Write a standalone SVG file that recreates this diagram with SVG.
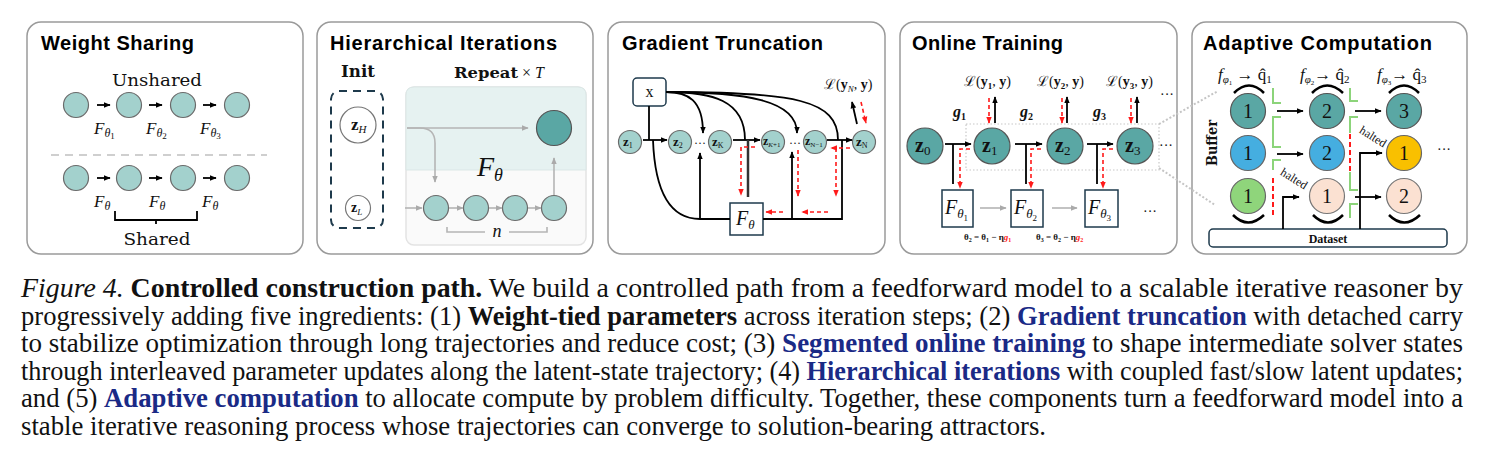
<svg xmlns="http://www.w3.org/2000/svg" width="1493" height="475" viewBox="0 0 1493 475">
<defs>
<marker id="ab" viewBox="0 0 10 10" refX="9" refY="5" markerWidth="7" markerHeight="7" markerUnits="userSpaceOnUse" orient="auto"><path d="M0,1 L10,5 L0,9 z" fill="#000"/></marker>
<marker id="ag" viewBox="0 0 10 10" refX="9" refY="5" markerWidth="7" markerHeight="7" markerUnits="userSpaceOnUse" orient="auto"><path d="M0,1 L10,5 L0,9 z" fill="#aaa"/></marker>
<marker id="ar" viewBox="0 0 10 10" refX="9" refY="5" markerWidth="7" markerHeight="7" markerUnits="userSpaceOnUse" orient="auto"><path d="M0,1 L10,5 L0,9 z" fill="#ff1a1a"/></marker>
</defs>
<style>
.panel{fill:#fff;stroke:#9a9a9a;stroke-width:1.5}
.title{font-family:"Liberation Sans",Arial,sans-serif;font-weight:bold;font-size:20px;fill:#000}
.lt{fill:#a3d1cd;stroke:#6a6a6a;stroke-width:1.2}
.dk{fill:#5aa7a4;stroke:#555;stroke-width:1.2}
.wc{fill:#fff;stroke:#777;stroke-width:1.2}
.bx{fill:#fff;stroke:#1e3a4c;stroke-width:1.5}
.srf{font-family:"DejaVu Serif","Liberation Serif",serif;fill:#111}
.mth{font-family:"Liberation Serif","Times New Roman",serif;fill:#111}
.it{font-style:italic}
.zb{font-family:"Liberation Serif",serif;font-weight:bold;fill:#111}
.blk{stroke:#000;stroke-width:1.8;fill:none}
.gry{stroke:#b5b5b5;stroke-width:1.6;fill:none}
.red{stroke:#ff1a1a;stroke-width:1.6;fill:none;stroke-dasharray:4 3}
.grn{stroke:#8cd47a;stroke-width:2;fill:none}
.cap{font-family:"Liberation Serif","Times New Roman",serif;font-size:27px;fill:#111}
.bl{font-weight:bold;fill:#1a2a86}
</style>

<!-- Panel 1 -->
<g id="panel-weight-sharing">
<rect class="panel" x="27" y="22" width="276" height="232" rx="14"/>
<text class="title" x="41" y="50" textLength="153">Weight Sharing</text>
<text class="srf" x="157" y="86" text-anchor="middle" font-size="16" textLength="90" lengthAdjust="spacingAndGlyphs">Unshared</text>
<circle class="lt" cx="76" cy="105" r="12.5"/><circle class="lt" cx="129" cy="105" r="12.5"/><circle class="lt" cx="183" cy="105" r="12.5"/><circle class="lt" cx="237" cy="105" r="12.5"/>
<text class="mth it" x="94" y="134" font-size="17">F<tspan font-size="12" dy="3">θ</tspan><tspan font-size="9" dy="2" font-style="normal">1</tspan></text>
<text class="mth it" x="146" y="134" font-size="17">F<tspan font-size="12" dy="3">θ</tspan><tspan font-size="9" dy="2" font-style="normal">2</tspan></text>
<text class="mth it" x="200" y="134" font-size="17">F<tspan font-size="12" dy="3">θ</tspan><tspan font-size="9" dy="2" font-style="normal">3</tspan></text>
<line x1="51" y1="155" x2="267" y2="155" stroke="#cfcfcf" stroke-width="2" stroke-dasharray="8 6"/>
<circle class="lt" cx="76" cy="178" r="12.5"/><circle class="lt" cx="129" cy="178" r="12.5"/><circle class="lt" cx="183" cy="178" r="12.5"/><circle class="lt" cx="237" cy="178" r="12.5"/>
<text class="mth it" x="94" y="207" font-size="17">F<tspan font-size="12" dy="3">θ</tspan></text>
<text class="mth it" x="149" y="207" font-size="17">F<tspan font-size="12" dy="3">θ</tspan></text>
<text class="mth it" x="202" y="207" font-size="17">F<tspan font-size="12" dy="3">θ</tspan></text>
<path d="M115,211 V220 H197 V211 M156,220 V224" class="blk" stroke-width="1.6"/>
<text class="srf" x="157" y="245" text-anchor="middle" font-size="16" textLength="67" lengthAdjust="spacingAndGlyphs">Shared</text>
</g>

<!-- Panel 2 -->
<g id="panel-hierarchical">
<rect class="panel" x="317" y="22" width="276" height="232" rx="14"/>
<text class="title" x="330" y="50" textLength="227">Hierarchical Iterations</text>
<text class="srf" x="358" y="77" text-anchor="middle" font-size="16" font-weight="bold" textLength="34" lengthAdjust="spacingAndGlyphs">Init</text>
<text class="srf" x="454" y="78" font-size="14" font-weight="bold" textLength="64" lengthAdjust="spacingAndGlyphs">Repeat</text>
<text class="mth" x="522" y="78" font-size="16">× <tspan class="it">T</tspan></text>
<rect x="331" y="91" width="52" height="137" rx="8" fill="none" stroke="#1e3a4c" stroke-width="2" stroke-dasharray="8 6"/>
<g id="zH"><circle class="wc" cx="358" cy="125" r="18"/><text class="zb" x="351" y="130" font-size="17">z<tspan class="it" font-weight="normal" font-size="11" dy="3">H</tspan></text></g>
<g id="zL"><circle class="wc" cx="358" cy="208" r="12.5"/><text class="zb" x="351" y="212" font-size="14">z<tspan class="it" font-weight="normal" font-size="9" dy="3">L</tspan></text></g>
<rect x="406" y="87" width="180" height="158" rx="8" fill="#fafafa" stroke="#e3e3e3" stroke-width="1.5"/>
<path d="M406,170 V95 Q406,87 414,87 H578 Q586,87 586,95 V170 Z" fill="#e6f2f1" stroke="#dbe7e6" stroke-width="1"/>
<circle class="dk" cx="554" cy="128" r="17.5"/>
<text class="mth it" x="477" y="176" font-size="28">F<tspan font-size="18" dy="5">θ</tspan></text>
<circle class="lt" cx="436" cy="208" r="12.5"/><circle class="lt" cx="476" cy="208" r="12.5"/><circle class="lt" cx="515" cy="208" r="12.5"/><circle class="lt" cx="554" cy="208" r="12.5"/>
<path d="M447,227 V232 H485 M509,232 H547 V227" class="gry" stroke="#c3c3c3"/>
<text class="mth it" x="497" y="237" text-anchor="middle" font-size="18" fill="#999">n</text>
</g>

<!-- Panel 3 -->
<g id="panel-gradient">
<rect class="panel" x="608" y="22" width="277" height="232" rx="14"/>
<text class="title" x="622" y="50" textLength="201">Gradient Truncation</text>
<g id="xbox"><rect class="bx" x="633" y="78" width="33" height="28" rx="4"/><text class="mth" x="649.5" y="97" text-anchor="middle" font-size="16">x</text></g>
<text class="mth" x="824" y="89" font-size="14">ℒ(<tspan font-weight="bold">y</tspan><tspan class="it" font-size="9" dy="3">N</tspan><tspan dy="-3">, </tspan><tspan font-weight="bold">y</tspan>)</text>
<g id="gz1"><circle class="lt" cx="630" cy="142" r="11.5"/><text class="zb" x="623" y="146" font-size="13">z<tspan font-size="8" font-weight="normal" dy="2">1</tspan></text></g>
<g id="gz2"><circle class="lt" cx="680" cy="142" r="11.5"/><text class="zb" x="673" y="146" font-size="13">z<tspan font-size="8" font-weight="normal" dy="2">2</tspan></text></g>
<g id="gzK"><circle class="lt" cx="720" cy="142" r="11.5"/><text class="zb" x="712" y="146" font-size="13">z<tspan font-size="8" font-weight="normal" dy="2">K</tspan></text></g>
<g id="gzK1"><circle class="lt" cx="773" cy="142" r="11.5"/><text class="zb" x="763" y="145" font-size="12">z<tspan font-size="7" font-weight="normal" dy="2"><tspan class="it">K</tspan>+1</tspan></text></g>
<g id="gzN1"><circle class="lt" cx="815" cy="142" r="11.5"/><text class="zb" x="805" y="145" font-size="12">z<tspan font-size="7" font-weight="normal" dy="2">N−1</tspan></text></g>
<g id="gzN"><circle class="lt" cx="864" cy="142" r="11.5"/><text class="zb" x="856" y="146" font-size="13">z<tspan font-size="8" font-weight="normal" dy="2">N</tspan></text></g>
<text class="mth" x="700" y="147" text-anchor="middle" font-size="12">···</text>
<text class="mth" x="795" y="147" text-anchor="middle" font-size="12">···</text>
<g id="fbox"><rect class="bx" x="730" y="203" width="33" height="32"/><text class="mth it" x="736" y="225" font-size="20">F<tspan font-size="13" dy="4">θ</tspan></text></g>
</g>

<!-- Panel 4 -->
<g id="panel-online">
<rect class="panel" x="900" y="22" width="277" height="232" rx="14"/>
<text class="title" x="912" y="50" textLength="151">Online Training</text>
<text class="mth" x="964" y="86" font-size="14">ℒ(<tspan font-weight="bold">y<tspan font-size="9" dy="3">1</tspan></tspan><tspan dy="-3">, </tspan><tspan font-weight="bold">y</tspan>)</text>
<text class="mth" x="1037" y="86" font-size="14">ℒ(<tspan font-weight="bold">y<tspan font-size="9" dy="3">2</tspan></tspan><tspan dy="-3">, </tspan><tspan font-weight="bold">y</tspan>)</text>
<text class="mth" x="1106" y="86" font-size="14">ℒ(<tspan font-weight="bold">y<tspan font-size="9" dy="3">3</tspan></tspan><tspan dy="-3">, </tspan><tspan font-weight="bold">y</tspan>)</text>
<text class="mth" x="1167" y="99" text-anchor="middle" font-size="14">···</text>
<text class="mth it" x="953" y="117" font-size="16" font-weight="bold" fill="#ff1a1a">g<tspan font-size="10" font-style="normal" dy="3">1</tspan></text>
<text class="mth it" x="1020" y="117" font-size="16" font-weight="bold" fill="#ff1a1a">g<tspan font-size="10" font-style="normal" dy="3">2</tspan></text>
<text class="mth it" x="1093" y="117" font-size="16" font-weight="bold" fill="#ff1a1a">g<tspan font-size="10" font-style="normal" dy="3">3</tspan></text>
<rect x="966" y="124" width="193" height="46" fill="none" stroke="#c8c8c8" stroke-width="1.2" stroke-dasharray="1.5 2"/>
<g id="oz0"><circle class="dk" cx="925" cy="146" r="18"/><text class="zb" x="915" y="152" font-size="20">z<tspan font-size="13" font-weight="normal" dy="3">0</tspan></text></g>
<g id="oz1"><circle class="dk" cx="992" cy="146" r="18"/><text class="zb" x="982" y="152" font-size="20">z<tspan font-size="13" font-weight="normal" dy="3">1</tspan></text></g>
<g id="oz2"><circle class="dk" cx="1065" cy="146" r="18"/><text class="zb" x="1055" y="152" font-size="20">z<tspan font-size="13" font-weight="normal" dy="3">2</tspan></text></g>
<g id="oz3"><circle class="dk" cx="1135" cy="146" r="18"/><text class="zb" x="1125" y="152" font-size="20">z<tspan font-size="13" font-weight="normal" dy="3">3</tspan></text></g>
<text class="mth" x="1166" y="150" text-anchor="middle" font-size="14">···</text>
<g id="of1"><rect class="bx" x="942" y="190" width="31" height="37"/><text class="mth it" x="945" y="214" font-size="20">F<tspan font-size="13" dy="4">θ</tspan><tspan font-size="9" font-style="normal" dy="3">1</tspan></text></g>
<g id="of2"><rect class="bx" x="1011" y="190" width="32" height="37"/><text class="mth it" x="1014" y="214" font-size="20">F<tspan font-size="13" dy="4">θ</tspan><tspan font-size="9" font-style="normal" dy="3">2</tspan></text></g>
<g id="of3"><rect class="bx" x="1085" y="190" width="33" height="37"/><text class="mth it" x="1088" y="214" font-size="20">F<tspan font-size="13" dy="4">θ</tspan><tspan font-size="9" font-style="normal" dy="3">3</tspan></text></g>
<text class="mth" x="1150" y="216" text-anchor="middle" font-size="14">···</text>
<text class="mth" x="964" y="240" font-size="9" font-weight="bold">θ<tspan font-size="6" dy="2">2</tspan><tspan dy="-2"> = θ</tspan><tspan font-size="6" dy="2">1</tspan><tspan dy="-2"> − η</tspan><tspan fill="#ff1a1a" font-style="italic">g</tspan><tspan fill="#ff1a1a" font-size="6" dy="2">1</tspan></text>
<text class="mth" x="1036" y="240" font-size="9" font-weight="bold">θ<tspan font-size="6" dy="2">3</tspan><tspan dy="-2"> = θ</tspan><tspan font-size="6" dy="2">2</tspan><tspan dy="-2"> − η</tspan><tspan fill="#ff1a1a" font-style="italic">g</tspan><tspan fill="#ff1a1a" font-size="6" dy="2">2</tspan></text>
</g>

<!-- Panel 5 -->
<g id="panel-adaptive">
<rect class="panel" x="1192" y="22" width="275" height="232" rx="14"/>
<text class="title" x="1203" y="50" textLength="229">Adaptive Computation</text>
<text class="mth" x="1218" y="80" font-size="17"><tspan class="it">f</tspan><tspan class="it" font-size="11" dy="3">φ</tspan><tspan font-size="7" dy="2">1</tspan><tspan dy="-5" font-weight="bold"> → </tspan>q̂<tspan font-size="11" dy="3">1</tspan></text>
<text class="mth" x="1300" y="80" font-size="17"><tspan class="it">f</tspan><tspan class="it" font-size="11" dy="3">φ</tspan><tspan font-size="7" dy="2">2</tspan><tspan dy="-5" font-weight="bold">→ </tspan>q̂<tspan font-size="11" dy="3">2</tspan></text>
<text class="mth" x="1377" y="80" font-size="17"><tspan class="it">f</tspan><tspan class="it" font-size="11" dy="3">φ</tspan><tspan font-size="7" dy="2">3</tspan><tspan dy="-5" font-weight="bold">→ </tspan>q̂<tspan font-size="11" dy="3">3</tspan></text>
<path d="M1234,93 Q1249,78 1264,93 M1312,93 Q1327,78 1343,93 M1389,93 Q1404,78 1419,93" stroke="#000" stroke-width="2.5" fill="none"/>
<path d="M1233,215 Q1248,230 1264,215 M1313,215 Q1328,230 1343,215 M1389,215 Q1404,230 1420,215" stroke="#000" stroke-width="2.5" fill="none"/>
<text class="srf" transform="translate(1217,143) rotate(-90)" text-anchor="middle" font-size="15" font-weight="bold" textLength="46" lengthAdjust="spacingAndGlyphs">Buffer</text>
<g id="c11"><circle class="dk" cx="1248" cy="111" r="17.5"/><text class="mth" x="1248" y="118" text-anchor="middle" font-size="20">1</text></g>
<g id="c12"><circle class="dk" cx="1327" cy="111" r="17.5"/><text class="mth" x="1327" y="118" text-anchor="middle" font-size="20">2</text></g>
<g id="c13"><circle class="dk" cx="1404" cy="111" r="17.5"/><text class="mth" x="1404" y="118" text-anchor="middle" font-size="20">3</text></g>
<g id="c21"><circle cx="1248" cy="153" r="17.5" fill="#45aee0" stroke="#666" stroke-width="1.2"/><text class="mth" x="1248" y="160" text-anchor="middle" font-size="20">1</text></g>
<g id="c22"><circle cx="1327" cy="153" r="17.5" fill="#45aee0" stroke="#666" stroke-width="1.2"/><text class="mth" x="1327" y="160" text-anchor="middle" font-size="20">2</text></g>
<g id="c23"><circle cx="1404" cy="153" r="17.5" fill="#f9c000" stroke="#666" stroke-width="1.2"/><text class="mth" x="1404" y="160" text-anchor="middle" font-size="20">1</text></g>
<g id="c31"><circle cx="1248" cy="196" r="17.5" fill="#8fd57b" stroke="#666" stroke-width="1.2"/><text class="mth" x="1248" y="203" text-anchor="middle" font-size="20">1</text></g>
<g id="c32"><circle cx="1327" cy="196" r="17.5" fill="#fbe1d2" stroke="#777" stroke-width="1.2"/><text class="mth" x="1327" y="203" text-anchor="middle" font-size="20">1</text></g>
<g id="c33"><circle cx="1404" cy="196" r="17.5" fill="#fbe1d2" stroke="#777" stroke-width="1.2"/><text class="mth" x="1404" y="203" text-anchor="middle" font-size="20">2</text></g>
<text class="mth" x="1444" y="154" text-anchor="middle" font-size="14">···</text>
<path class="grn" d="M1273,88 V103 H1281 M1281,117 H1273 V147 H1281 M1281,160 H1273 V170"/>
<path class="grn" d="M1350,88 V101 H1358 M1358,117 H1350 V133 M1350,172 V190 H1358 M1358,204 H1350 V218"/>
<path d="M1273,178 V218 M1350,134 V172" stroke="#ff1a1a" stroke-width="2" stroke-dasharray="5 3"/>
<text class="mth" transform="translate(1292,182) rotate(32)" text-anchor="middle" font-size="12" fill="#ff1a1a">halted</text>
<text class="mth" transform="translate(1371,140) rotate(32)" text-anchor="middle" font-size="12" fill="#ff1a1a">halted</text>
<g id="dataset"><rect class="bx" x="1209" y="229" width="238" height="18" rx="4"/><text class="mth" x="1328" y="243" text-anchor="middle" font-size="12" font-weight="bold">Dataset</text></g>
</g>

<!-- Connectors -->
<g id="connectors">
<!-- panel 1 -->
<path class="blk" marker-end="url(#ab)" d="M97,105 H110"/><path class="blk" marker-end="url(#ab)" d="M149,105 H162"/><path class="blk" marker-end="url(#ab)" d="M203,105 H216"/>
<path class="blk" marker-end="url(#ab)" d="M97,178 H110"/><path class="blk" marker-end="url(#ab)" d="M149,178 H162"/><path class="blk" marker-end="url(#ab)" d="M203,178 H216"/>
<!-- panel 2 -->
<path class="gry" marker-end="url(#ag)" d="M407,128 H528"/>
<path class="gry" marker-end="url(#ag)" d="M407,128 H420 Q435,128 435,143 V182"/>
<path class="gry" marker-end="url(#ag)" d="M405,208 H422"/>
<path class="gry" marker-end="url(#ag)" d="M449,208 H463"/><path class="gry" marker-end="url(#ag)" d="M489,208 H502"/><path class="gry" marker-end="url(#ag)" d="M528,208 H541"/>
<path class="gry" marker-end="url(#ag)" d="M554,195 V158"/>
<!-- panel 3 -->
<path class="blk" stroke-width="1.5" d="M649,106 V140"/>
<path class="blk" stroke-width="1.5" marker-end="url(#ab)" d="M643,140 H667"/>
<path class="blk" stroke-width="1.5" d="M653,140 C655,195 672,219 700,219 H730 M763,219 H842 V140"/>
<path class="blk" stroke-width="1.5" marker-end="url(#ab)" d="M700,219 V153"/>
<path class="blk" stroke-width="1.5" marker-end="url(#ab)" d="M792,219 V152"/>
<path class="blk" stroke-width="1.5" marker-end="url(#ab)" d="M733,140 H760"/>
<path class="blk" stroke-width="1.5" marker-end="url(#ab)" d="M827,140 H852"/>
<path d="M748,140 V197" stroke="#333" stroke-width="2.5"/>
<path class="blk" stroke-width="1.5" marker-end="url(#ab)" d="M666,92 C688,92 703,100 703,133"/>
<path class="blk" stroke-width="1.5" d="M666,92 C712,92 745,100 745,140"/>
<path class="blk" stroke-width="1.5" marker-end="url(#ab)" d="M666,92 C745,92 797,100 797,133"/>
<path class="blk" stroke-width="1.5" d="M666,92 C795,92 838,100 838,140"/>
<path class="blk" stroke-width="1.5" marker-end="url(#ab)" d="M857,124 L852,102"/>
<path class="red" marker-end="url(#ar)" d="M861,102 L866,123"/>
<path class="red" marker-end="url(#ar)" d="M850,148 H831"/>
<path class="red" marker-end="url(#ar)" d="M836,148 V196"/>
<path class="red" marker-end="url(#ar)" d="M828,212 H802"/>
<path class="red" marker-end="url(#ar)" d="M783,212 H766"/>
<path class="red" marker-end="url(#ar)" d="M798,150 V196"/>
<path class="red" marker-end="url(#ar)" d="M755,147 H741 V195"/>
<!-- panel 4 -->
<path class="blk" stroke-width="2" marker-end="url(#ab)" d="M945,144 H971"/>
<path class="blk" stroke-width="2" marker-end="url(#ab)" d="M1015,144 H1042"/>
<path class="blk" stroke-width="2" marker-end="url(#ab)" d="M1087,144 H1113"/>
<path class="blk" stroke-width="2" d="M953,144 V184 M1026,144 V184 M1097,144 V184"/>
<path class="red" marker-end="url(#ar)" d="M970,149 H960 V188"/>
<path class="red" marker-end="url(#ar)" d="M1041,149 H1031 V188"/>
<path class="red" marker-end="url(#ar)" d="M1113,149 H1103 V188"/>
<path class="gry" stroke="#888" marker-end="url(#ag)" d="M980,208 H1006"/>
<path class="gry" stroke="#888" marker-end="url(#ag)" d="M1052,208 H1077"/>
<path class="red" marker-end="url(#ar)" d="M989,98 V123"/><path class="blk" stroke-width="1.5" marker-end="url(#ab)" d="M995,123 V97"/>
<path class="red" marker-end="url(#ar)" d="M1062,98 V123"/><path class="blk" stroke-width="1.5" marker-end="url(#ab)" d="M1067,123 V97"/>
<path class="red" marker-end="url(#ar)" d="M1131,98 V123"/><path class="blk" stroke-width="1.5" marker-end="url(#ab)" d="M1137,123 V97"/>
<path d="M1159,124 L1218,91 M1159,168 L1215,205" stroke="#c5c5c5" stroke-width="2" stroke-dasharray="2 2" fill="none"/>
<!-- panel 5 -->
<path class="blk" stroke-width="1.5" marker-end="url(#ab)" d="M1277,111 H1303"/>
<path class="blk" stroke-width="1.5" marker-end="url(#ab)" d="M1355,111 H1381"/>
<path class="blk" stroke-width="1.5" marker-end="url(#ab)" d="M1277,154 H1303"/>
<path class="blk" stroke-width="1.5" marker-end="url(#ab)" d="M1355,197 H1381"/>
<path class="blk" stroke="#444" stroke-width="1.5" marker-end="url(#ab)" d="M1283,229 V197 H1299"/>
<path class="blk" stroke="#444" stroke-width="1.5" marker-end="url(#ab)" d="M1360,229 V153 H1382"/>
</g>

<!-- Caption -->
<g id="caption">
<text class="cap" x="21" y="297" textLength="1442" lengthAdjust="spacingAndGlyphs"><tspan font-style="italic">Figure 4.</tspan>  <tspan font-weight="bold">Controlled construction path.</tspan>  We build a controlled path from a feedforward model to a scalable iterative reasoner by</text>
<text class="cap" x="21" y="324.5" textLength="1442" lengthAdjust="spacingAndGlyphs">progressively adding five ingredients: (1) <tspan font-weight="bold">Weight-tied parameters</tspan> across iteration steps; (2) <tspan class="bl">Gradient truncation</tspan> with detached carry</text>
<text class="cap" x="21" y="352" textLength="1442" lengthAdjust="spacingAndGlyphs">to stabilize optimization through long trajectories and reduce cost; (3) <tspan class="bl">Segmented online training</tspan> to shape intermediate solver states</text>
<text class="cap" x="21" y="379.5" textLength="1442" lengthAdjust="spacingAndGlyphs">through interleaved parameter updates along the latent-state trajectory; (4) <tspan class="bl">Hierarchical iterations</tspan> with coupled fast/slow latent updates;</text>
<text class="cap" x="21" y="407" textLength="1442" lengthAdjust="spacingAndGlyphs">and (5) <tspan class="bl">Adaptive computation</tspan> to allocate compute by problem difficulty. Together, these components turn a feedforward model into a</text>
<text class="cap" x="21" y="434.5" textLength="1025" lengthAdjust="spacingAndGlyphs">stable iterative reasoning process whose trajectories can converge to solution-bearing attractors.</text>
</g>
</svg>
